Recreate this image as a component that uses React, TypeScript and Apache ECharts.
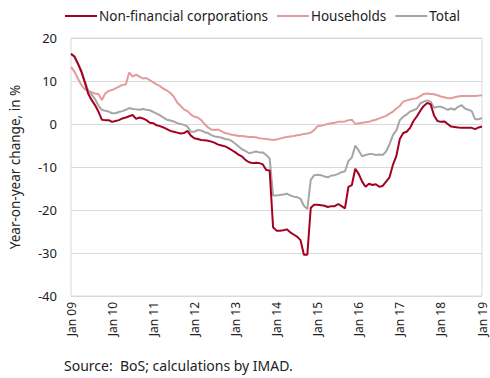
import React, { useEffect, useRef } from "react";
import * as echarts from "echarts";

const years = ["09", "10", "11", "12", "13", "14", "15", "16", "17", "18", "19"];
const monthNames = ["Jan", "Feb", "Mar", "Apr", "May", "Jun", "Jul", "Aug", "Sep", "Oct", "Nov", "Dec"];

const nonFinancial = [
  16.3, 15.7, 14.1, 12.2, 9.8, 7.1, 5.6, 4.4, 2.9, 1.0, 0.9, 0.9,
  0.5, 0.7, 0.9, 1.3, 1.5, 1.8, 2.1, 1.2, 1.5, 1.3, 0.9, 0.3,
  0.2, -0.3, -0.5, -0.8, -1.2, -1.6, -1.8, -2.0, -2.2, -2.1, -1.6, -2.7,
  -3.3, -3.5, -3.7, -3.8, -3.9, -4.1, -4.4, -4.8, -5.0, -5.2, -5.6, -6.1,
  -6.6, -7.2, -7.6, -8.4, -8.9, -9.1, -9.0, -9.1, -9.4, -10.7, -10.8, -24.0,
  -24.8, -24.8, -24.7, -24.5, -25.2, -25.7, -26.2, -27.0, -30.4, -30.4, -19.5, -18.8,
  -18.8, -18.9, -19.0, -19.3, -19.1, -19.1, -18.6, -19.1, -19.6, -14.6, -14.2, -10.4,
  -11.6, -13.4, -14.6, -13.9, -14.2, -14.0, -14.6, -14.4, -13.4, -12.4, -9.5, -7.4,
  -3.5, -2.1, -1.8, -0.9, 0.7, 1.8, 3.1, 4.2, 4.9, 4.6, 2.0, 0.7,
  0.5, 0.6, 0.0, -0.6, -0.7, -0.8, -0.9, -0.9, -0.9, -0.9, -1.2, -0.8,
  -0.6,
];

const households = [
  13.3, 12.2, 10.6, 9.1, 8.1, 7.7, 7.4, 7.1, 7.0, 5.6, 7.1, 7.7,
  7.9, 8.3, 8.7, 9.1, 9.2, 12.0, 11.0, 11.5, 11.0, 10.6, 10.7, 10.2,
  9.7, 9.2, 8.8, 8.2, 7.8, 7.2, 6.4, 5.0, 4.2, 3.4, 3.0, 2.2,
  1.7, 1.5, 0.9, 0.0, -0.8, -1.3, -1.4, -1.3, -1.7, -2.1, -2.3, -2.5,
  -2.6, -2.8, -2.8, -2.9, -3.0, -3.0, -3.1, -3.3, -3.4, -3.5, -3.6, -3.7,
  -3.6, -3.4, -3.2, -3.0, -2.9, -2.8, -2.6, -2.5, -2.3, -2.2, -2.0, -1.4,
  -0.5, -0.4, -0.2, 0.0, 0.2, 0.3, 0.5, 0.5, 0.6, 0.9, 1.0, 0.0,
  0.2, 0.3, 0.4, 0.5, 0.8, 1.0, 1.3, 1.6, 1.9, 2.4, 2.9, 3.6,
  4.2, 5.2, 5.5, 5.7, 5.9, 6.0, 6.5, 7.0, 7.1, 7.0, 6.9, 6.7,
  6.4, 6.2, 6.0, 6.0, 6.2, 6.4, 6.5, 6.5, 6.5, 6.5, 6.5, 6.6,
  6.7,
];

const total = [
  16.3, 15.7, 14.0, 12.5, 10.0, 7.8, 6.9, 5.8, 4.3, 3.3, 3.1, 2.9,
  2.5, 2.5, 2.8, 3.0, 3.3, 3.7, 3.5, 3.4, 3.3, 3.5, 3.3, 3.2,
  2.8, 2.4, 2.0, 1.5, 1.0, 0.8, 0.6, 0.2, 0.0, -0.2, -0.6, -1.8,
  -1.8, -1.4, -1.5, -1.9, -2.1, -2.6, -2.9, -3.0, -3.2, -3.5, -3.6, -4.0,
  -4.6, -5.3, -5.9, -6.3, -6.8, -6.6, -6.4, -6.6, -6.6, -7.2, -8.0, -16.6,
  -16.6, -16.5, -16.4, -16.2, -16.6, -16.9, -17.0, -17.4, -19.0, -19.8, -13.0, -11.9,
  -11.8, -11.9, -12.2, -12.4, -12.0, -11.9, -11.6, -11.2, -11.0, -8.6, -7.8, -5.0,
  -6.2, -7.5, -7.2, -7.0, -7.0, -7.2, -7.1, -7.2, -6.4, -4.7, -2.6, -1.5,
  0.9, 1.7, 2.2, 2.9, 3.2, 3.6, 4.8, 5.2, 5.5, 5.2, 3.8, 4.0,
  4.0, 3.7, 3.3, 3.6, 3.3, 4.0, 4.4, 3.6, 3.3, 3.0, 1.1, 1.1,
  1.4,
];

const seriesNames = ["Non-financial corporations", "Households", "Total"];
const seriesColors = ["#a50021", "#e39c9b", "#a6a6a6"];
const yTicks = { min: -40, max: 20, interval: 10 };
const yAxisTitle = "Year-on-year change, in %";
const sourceNote = "Source:  BoS; calculations by IMAD.";

const categories: string[] = [];
years.forEach((y, i) => {
  if (i === years.length - 1) {
    categories.push(`Jan ${y}`);
  } else {
    monthNames.forEach((m) => categories.push(`${m} ${y}`));
  }
});

const FONT = "'Noto Sans', 'Open Sans', sans-serif";

export default function App() {
  const ref = useRef<HTMLDivElement>(null);
  useEffect(() => {
    if (!ref.current) return;
    const chart = echarts.init(ref.current, undefined, { renderer: "svg" });
    const seriesData = [nonFinancial, households, total];
    const zs = [4, 2, 3];
    chart.setOption({
      animation: false,
      backgroundColor: "#ffffff",
      textStyle: { fontFamily: FONT },
      legend: {
        data: seriesNames,
        top: 4,
        left: 60,
        icon: "rect",
        itemWidth: 32,
        itemHeight: 2,
        itemGap: 9,
        textStyle: { fontSize: 13.5, color: "#222", fontFamily: FONT, padding: [0, 0, 0, -3] },
      },
      grid: {
        left: 68,
        right: 8,
        top: 38,
        bottom: 82,
        show: true,
        borderColor: "#d9d9d9",
        borderWidth: 1,
      },
      xAxis: {
        type: "category",
        data: categories,
        boundaryGap: false,
        axisLine: { show: false },
        axisTick: { show: false },
        splitLine: { show: false },
        axisLabel: {
          interval: 11,
          rotate: 90,
          fontSize: 12,
          color: "#222",
          margin: 6,
          fontFamily: FONT,
        },
      },
      yAxis: {
        type: "value",
        min: yTicks.min,
        max: yTicks.max,
        interval: yTicks.interval,
        name: yAxisTitle,
        nameLocation: "middle",
        nameGap: 49,
        nameTextStyle: { fontSize: 13.5, color: "#222", fontFamily: FONT },
        axisLine: { show: false },
        axisTick: { show: false },
        splitLine: { lineStyle: { color: "#d9d9d9", width: 1 } },
        axisLabel: { fontSize: 13, color: "#222", margin: 14, fontFamily: FONT },
      },
      series: seriesNames.map((name, i) => ({
        name,
        type: "line",
        data: seriesData[i],
        symbol: "none",
        z: zs[i],
        lineStyle: { color: seriesColors[i], width: 2 },
        itemStyle: { color: seriesColors[i] },
      })),
      graphic: [
        {
          type: "text",
          left: 64,
          top: 358,
          style: { text: sourceNote, fontSize: 14, fill: "#222", fontFamily: FONT },
        },
      ],
    });
    return () => chart.dispose();
  }, []);
  return <div ref={ref} style={{ width: 490, height: 378, position: "absolute", left: 0, top: 0 }} />;
}
